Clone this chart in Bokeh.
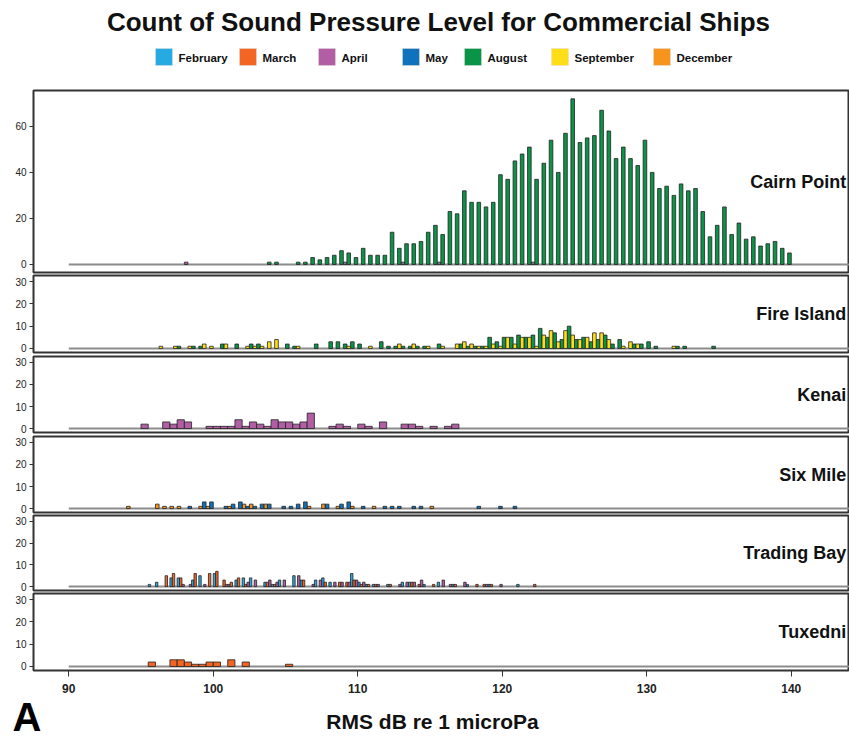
from bokeh.plotting import figure
from bokeh.layouts import column
from bokeh.models import Range1d, FixedTicker
from bokeh.core.properties import value
from bokeh.embed import file_html
from bokeh.resources import INLINE

TITLE = "Count of Sound Pressure Level for Commercial Ships"
X_LABEL = "RMS dB re 1 microPa"
PANEL_LETTER = "A"

month_names = ["February", "March", "April", "May", "August", "September", "December"]
month_colors = ["#27AAE1", "#F26522", "#B15EA5", "#1072BA", "#0A9447", "#FFDE17", "#F7941D"]
COLOR = dict(zip(month_names, month_colors))

x_ticks = [90, 100, 110, 120, 130, 140]
y_ticks_big = [0, 20, 40, 60]
y_ticks_small = [0, 10, 20, 30]

# ---- Cairn Point ----
cairn_apr_bins = [98.25, 109.25, 113.25, 115.75, 122.25]
cairn_apr_counts = [1, 1, 1, 1, 1]
cairn_aug_bins = [103.75 + 0.5 * i for i in range(73)]
cairn_aug_counts = [1, 1, 0, 0, 1, 1, 3, 2, 3, 4, 6, 5, 3, 7, 4, 4, 4, 14, 7, 9,
                    9, 10, 14, 17, 13, 23, 22, 32, 27, 27, 25, 27, 39, 37, 45, 48, 51, 37, 44, 54,
                    40, 57, 72, 53, 55, 56, 67, 58, 46, 51, 46, 43, 54, 40, 33, 34, 30, 35, 32, 33,
                    23, 12, 17, 25, 13, 18, 11, 12, 8, 9, 10, 7, 5]

# ---- Fire Island ----
fire_aug_bins = [97.75, 98.75, 99.25, 100.75, 101.75, 102.75, 103.25, 105.25, 105.75, 107.25,
                 108.25, 108.75, 109.25, 109.75, 110.25, 111.75, 112.25, 112.75, 113.25, 113.75,
                 114.25, 114.75, 115.75, 117.25, 117.75, 118.25, 118.75, 119.25, 119.75, 120.25,
                 120.75, 121.25, 121.75, 122.25, 122.75, 123.25, 123.75, 124.25, 124.75, 125.25,
                 125.75, 126.25, 126.75, 127.25, 127.75, 128.25, 129.25, 129.75, 130.25, 130.75,
                 132.25, 132.75, 134.75]
fire_aug_counts = [1, 1, 1, 2, 2, 2, 2, 2, 1, 2,
                   3, 3, 2, 3, 2, 3, 1, 1, 1, 1,
                   1, 1, 2, 2, 1, 1, 1, 5, 3, 5,
                   5, 6, 5, 6, 9, 5, 7, 4, 10, 4,
                   5, 3, 4, 6, 2, 4, 2, 2, 3, 1,
                   1, 1, 1]
fire_sep_bins = [96.25, 97.25, 98.25, 99.25, 99.75, 100.75, 102.25, 102.75, 103.25, 103.75,
                 104.25, 105.75, 109.25, 110.75, 112.75, 113.75, 114.75, 115.75, 116.75, 117.25,
                 117.75, 118.25, 118.75, 119.25, 119.75, 120.25, 120.75, 121.25, 121.75, 122.25,
                 122.75, 123.25, 123.75, 124.25, 124.75, 125.25, 125.75, 126.25, 126.75, 127.25,
                 128.25, 128.75, 129.25, 131.75]
fire_sep_counts = [1, 1, 1, 2, 1, 2, 1, 1, 1, 3,
                   4, 1, 1, 1, 2, 2, 1, 1, 2, 3,
                   2, 1, 1, 2, 1, 5, 2, 5, 5, 1,
                   6, 8, 3, 8, 6, 4, 5, 7, 7, 4,
                   1, 3, 2, 1]

# ---- Kenai ----
kenai_apr_bins = [95.25, 96.75, 97.25, 97.75, 98.25, 99.75, 100.25, 100.75, 101.25, 101.75,
                  102.25, 102.75, 103.25, 103.75, 104.25, 104.75, 105.25, 105.75, 106.25, 106.75,
                  108.25, 108.75, 109.25, 110.25, 110.75, 111.75, 113.25, 113.75, 114.25, 115.25,
                  116.25, 116.75]
kenai_apr_counts = [2, 3, 2, 4, 3, 1, 1, 1, 1, 4,
                    1, 3, 2, 1, 4, 3, 3, 2, 3, 7,
                    1, 2, 1, 2, 1, 3, 2, 2, 1, 1,
                    1, 2]

# ---- Six Mile ----
six_dec_bins = [94.25, 96.25, 96.75, 97.25, 97.75, 99.25, 99.75, 101.25, 102.25, 102.75,
                103.75, 106.75, 107.75, 108.75, 109.75, 111.25, 115.25]
six_dec_counts = [1, 2, 1, 1, 1, 1, 1, 1, 2, 2,
                  2, 1, 2, 1, 1, 1, 1]
six_may_bins = [98.25, 99.25, 99.75, 100.75, 101.25, 101.75, 102.25, 102.75, 103.25, 103.75,
                104.75, 105.25, 105.75, 106.25, 107.75, 108.75, 109.25, 110.25, 111.75, 112.25,
                112.75, 113.75, 114.25, 118.25, 119.75, 120.75]
six_may_counts = [1, 3, 3, 1, 2, 3, 1, 1, 2, 2,
                  1, 1, 2, 3, 2, 2, 3, 1, 1, 1,
                  1, 1, 1, 1, 1, 1]

# ---- Trading Bay ----
trad_feb_bins = [95.75, 96.25, 97.25, 97.75, 98.75, 99.25, 100.25, 101.25, 101.75, 102.25,
                 102.75, 103.75, 104.25, 104.75, 105.75, 106.25, 107.25, 107.75, 108.25, 109.75,
                 110.25, 110.75, 111.25, 112.25, 113.25, 113.75, 114.75, 115.75, 116.75, 117.75,
                 119.25, 121.25]
trad_feb_counts = [1, 2, 4, 4, 3, 5, 6, 1, 3, 4,
                   4, 2, 1, 3, 5, 3, 3, 4, 2, 6,
                   2, 1, 1, 1, 2, 2, 1, 2, 1, 1,
                   1, 1]
trad_mar_bins = [96.75, 97.25, 97.75, 98.75, 99.75, 100.25, 100.75, 101.25, 101.75, 102.25,
                 103.75, 104.25, 106.25, 107.75, 108.75, 109.25, 109.75, 110.25, 110.75, 111.25,
                 112.25, 113.75, 114.25, 115.25, 116.75, 118.25, 118.75, 119.25, 122.25]
trad_mar_counts = [5, 6, 4, 6, 6, 7, 3, 2, 4, 1,
                   2, 1, 3, 2, 2, 2, 3, 1, 1, 1,
                   1, 2, 1, 1, 1, 1, 1, 1, 1]
trad_apr_bins = [97.75, 98.25, 99.25, 100.75, 102.25, 102.75, 103.75, 104.25, 104.75, 105.75,
                 106.75, 107.25, 108.25, 108.75, 109.25, 109.75, 110.25, 111.25, 112.75, 113.25,
                 113.75, 114.25, 115.75, 116.25, 117.25, 118.75, 119.75]
trad_apr_counts = [1, 1, 1, 1, 2, 3, 3, 2, 3, 5,
                   1, 3, 2, 2, 2, 3, 2, 1, 1, 2,
                   2, 3, 3, 1, 2, 1, 1]

# ---- Tuxedni ----
tux_mar_bins = [95.75, 97.25, 97.75, 98.25, 98.75, 99.25, 99.75, 100.25, 101.25, 102.25, 105.25]
tux_mar_counts = [2, 3, 3, 2, 1, 1, 2, 2, 3, 2, 1]

panels = [
    ("Cairn Point", [("April", cairn_apr_bins, cairn_apr_counts),
                     ("August", cairn_aug_bins, cairn_aug_counts)]),
    ("Fire Island", [("August", fire_aug_bins, fire_aug_counts),
                     ("September", fire_sep_bins, fire_sep_counts)]),
    ("Kenai", [("April", kenai_apr_bins, kenai_apr_counts)]),
    ("Six Mile", [("December", six_dec_bins, six_dec_counts),
                  ("May", six_may_bins, six_may_counts)]),
    ("Trading Bay", [("February", trad_feb_bins, trad_feb_counts),
                     ("March", trad_mar_bins, trad_mar_counts),
                     ("April", trad_apr_bins, trad_apr_counts)]),
    ("Tuxedni", [("March", tux_mar_bins, tux_mar_counts)]),
]

BIN_W = 0.5
W = 849
LEFT = 33
FONT = value("Liberation Sans")

x_range = Range1d(87.56, 144.03)

# layout: (fig height, border top, border bottom, y range, ticks)
geom = [
    (186, 2, 2, (-3.5, 75.6), y_ticks_big),
    (80, 1, 2, (-1.8, 32.7), y_ticks_small),
    (80, 2, 2, (-1.8, 32.7), y_ticks_small),
    (80, 2, 2, (-1.8, 32.7), y_ticks_small),
    (78, 1, 2, (-1.8, 32.7), y_ticks_small),
    (110, 1, 32, (-1.8, 32.7), y_ticks_small),
]

# ---- header: title + legend (frame spans pixels LEFT..W, so data units = pixels) ----
top = figure(width=W, height=88, x_range=Range1d(LEFT, W), y_range=Range1d(88, 0),
             x_axis_location=None, y_axis_location=None, min_border=0, min_border_left=LEFT,
             outline_line_color=None, toolbar_location=None, output_backend="svg")
top.grid.visible = False
top.text(x=[438], y=[21], text=[TITLE], text_font=FONT, text_font_style="bold",
         text_font_size="26px", text_align="center", text_baseline="middle", text_color="#111")
sw_left = [155, 239, 318, 402, 464, 551, 653]
top.rect(x=[s + 8.5 for s in sw_left], y=[56.5] * 7, width=17, height=17,
         fill_color=month_colors, line_color="#dddddd", line_width=0.5)
top.text(x=[s + 23 for s in sw_left], y=[57] * 7, text=month_names, text_font=FONT,
         text_font_style="bold", text_font_size="11.5px", text_align="left",
         text_baseline="middle", text_color="#111")

figs = [top]
for k, (name, groups) in enumerate(panels):
    h, bt, bb, yr, yt = geom[k]
    last = k == len(panels) - 1
    p = figure(width=W, height=h, x_range=x_range, y_range=Range1d(*yr),
               x_axis_location="below" if last else None,
               min_border_left=LEFT, min_border_right=0, min_border_top=bt, min_border_bottom=bb,
               toolbar_location=None, output_backend="svg")
    p.grid.visible = False
    p.outline_line_color = "#333333"
    p.outline_line_width = 2
    p.background_fill_color = "white"

    # baseline (zero-count bins)
    p.segment(x0=[90], x1=[146], y0=[0], y1=[0], line_color="#8c8c8c", line_width=2)

    n = len(groups)
    bw = BIN_W / n
    for i, (month, bins, counts) in enumerate(groups):
        xs = [b - BIN_W / 2 + (i + 0.5) * bw for b, c in zip(bins, counts) if c > 0]
        ys = [c for c in counts if c > 0]
        p.vbar(x=xs, top=ys, bottom=0, width=bw, fill_color=COLOR[month],
               line_color="#222222", line_width=0.8)

    p.text(x=[143.8], y=[(yr[0] + yr[1]) / 2], text=[name], text_font=FONT,
           text_font_style="bold", text_font_size="18px", text_align="right",
           text_baseline="middle", text_color="#111")

    ya = p.yaxis[0]
    ya.ticker = FixedTicker(ticks=yt)
    ya.axis_line_color = None
    ya.major_tick_out = 4
    ya.major_tick_in = 0
    ya.major_tick_line_color = "#333333"
    ya.minor_tick_line_color = None
    ya.major_label_text_font = "Liberation Sans"
    ya.major_label_text_font_size = "10px"
    ya.major_label_text_color = "#222222"
    ya.major_label_standoff = 3

    if last:
        xa = p.xaxis[0]
        xa.ticker = FixedTicker(ticks=x_ticks)
        xa.axis_line_color = None
        xa.major_tick_out = 6
        xa.major_tick_in = 0
        xa.major_tick_line_color = "#333333"
        xa.minor_tick_line_color = None
        xa.major_label_text_font = "Liberation Sans"
        xa.major_label_text_font_style = "bold"
        xa.major_label_text_font_size = "12px"
        xa.major_label_text_color = "#222222"
        xa.major_label_standoff = 7
    figs.append(p)

# ---- footer: panel letter (as a horizontal y-axis label) + axis title ----
bot = figure(width=W, height=34, x_range=Range1d(LEFT, W), y_range=Range1d(29, 0),
             x_axis_location=None, y_axis_location="left", min_border=0, min_border_left=LEFT,
             min_border_bottom=5, outline_line_color=None, toolbar_location=None,
             output_backend="svg")
bot.grid.visible = False
ba = bot.yaxis[0]
ba.ticker = FixedTicker(ticks=[])
ba.axis_line_color = None
ba.major_tick_out = 0
ba.major_tick_in = 0
ba.minor_tick_line_color = None
ba.major_label_text_font_size = "1px"
ba.axis_label = PANEL_LETTER
ba.axis_label_orientation = "horizontal"
ba.axis_label_standoff = -8
ba.axis_label_text_font = "Liberation Sans"
ba.axis_label_text_font_style = "bold"
ba.axis_label_text_font_size = "40px"
ba.axis_label_text_color = "#000000"
bot.text(x=[432], y=[18.5], text=[X_LABEL], text_font=FONT, text_font_style="bold",
         text_font_size="21px", text_align="center", text_baseline="middle",
         text_color="#111")
figs.append(bot)

layout = column(*figs, spacing=0)
open("out.html", "w").write(file_html(layout, INLINE))
